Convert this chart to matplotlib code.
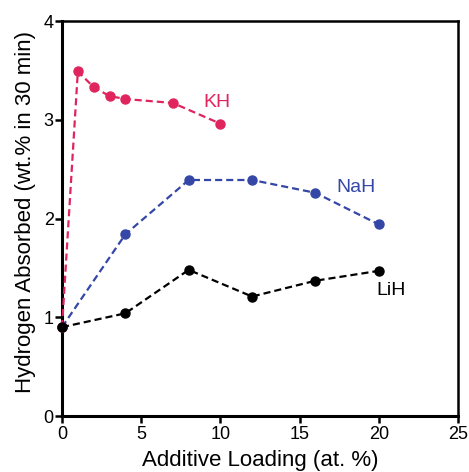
import matplotlib
matplotlib.use("Agg")
import matplotlib.pyplot as plt

plt.rcParams['font.family'] = ['Liberation Sans', 'DejaVu Sans']

kh_x = [0, 1, 2, 3, 4, 7, 10]
kh_y = [0.90, 3.49, 3.33, 3.24, 3.21, 3.17, 2.96]
nah_x = [0, 4, 8, 12, 16, 20]
nah_y = [0.90, 1.84, 2.39, 2.39, 2.26, 1.94]
lih_x = [0, 4, 8, 12, 16, 20]
lih_y = [0.90, 1.04, 1.48, 1.21, 1.37, 1.47]

xticks = [0, 5, 10, 15, 20, 25]
yticks = [0, 1, 2, 3, 4]

c_kh = '#E0245E'
c_nah = '#3447A6'
c_lih = '#000000'

fig = plt.figure(figsize=(4.69, 4.72), dpi=100)
ax = fig.add_axes([0.1322, 0.1186, 0.8443, 0.8369])

ls = (0, (3.2, 1.8))
ax.plot(nah_x, nah_y, color=c_nah, ls=ls, lw=1.6, marker='o', ms=6.5, clip_on=False, zorder=3)
ax.plot(kh_x, kh_y, color=c_kh, ls=ls, lw=1.6, marker='o', ms=6.5, clip_on=False, zorder=4)
ax.plot(lih_x, lih_y, color=c_lih, ls=ls, lw=1.6, marker='o', ms=6.5, clip_on=False, zorder=5)

ax.text(8.9, 3.17, 'KH', color=c_kh, fontsize=14, va='center', ha='left')
ax.text(17.3, 2.31, 'NaH', color=c_nah, fontsize=14, va='center', ha='left')
ax.text(19.85, 1.27, 'LiH', color=c_lih, fontsize=14, va='center', ha='left')

ax.set_xlim(0, 25)
ax.set_ylim(0, 4)
ax.set_xticks(xticks)
ax.set_yticks(yticks)
ax.tick_params(axis='both', labelsize=13, width=1.8, length=5, direction='out', pad=1)
ax.tick_params(axis='x', pad=2)

for s in ['left', 'bottom']:
    ax.spines[s].set_linewidth(2.2)
for s in ['top', 'right']:
    ax.spines[s].set_linewidth(1.8)

ax.set_xlabel('Additive Loading (at. %)', fontsize=16, labelpad=5)
ax.set_ylabel('Hydrogen Absorbed (wt.% in 30 min)', fontsize=16)
ax.yaxis.set_label_coords(-0.066, 0.516)

fig.savefig('out.png', dpi=100)
